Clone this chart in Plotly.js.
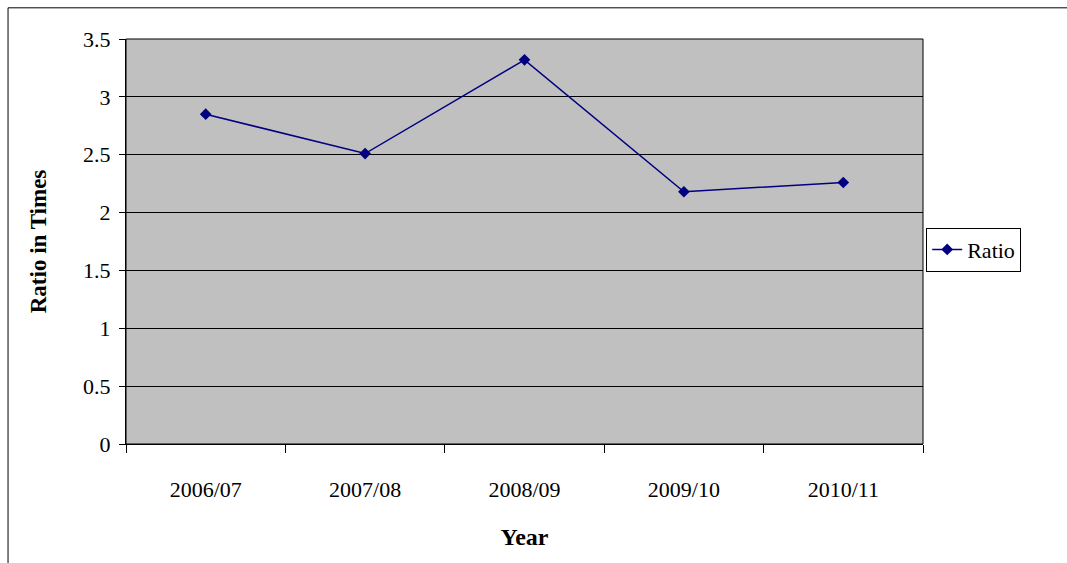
<!DOCTYPE html>
<html>
<head>
<script src="https://cdn.plot.ly/plotly-3.0.1.min.js"></script>
<style>body{margin:0}</style>
</head>
<body>
<div id="plot" style="width:1067px;height:563px"></div>
<script>
var years = ['2006/07', '2007/08', '2008/09', '2009/10', '2010/11'];
var ratio = [2.85, 2.51, 3.32, 2.18, 2.26];

var trace = {
  x: years,
  y: ratio,
  name: 'Ratio',
  type: 'scatter',
  mode: 'lines+markers',
  line: {color: '#000080', width: 1.5},
  marker: {symbol: 'diamond', size: 9, color: '#000080'}
};

var layout = {
  width: 1067, height: 563,
  margin: {l: 126, r: 144, t: 39, b: 119},
  font: {family: '"Liberation Serif", serif', size: 22, color: '#000'},
  plot_bgcolor: '#c0c0c0',
  paper_bgcolor: '#fff',
  showlegend: true,
  legend: {x: 1.004, xanchor: 'left', y: 0.48, yanchor: 'middle',
    bordercolor: '#000', borderwidth: 1, font: {size: 22}},
  xaxis: {
    range: [-0.5, 4.5],
    tickson: 'boundaries', ticks: 'outside', ticklen: 8, tickcolor: '#000',
    ticklabelstandoff: 26,
    showline: true, linecolor: '#000', showgrid: false,
    title: {text: '<b>Year</b>', font: {size: 24}, standoff: 26}
  },
  yaxis: {
    range: [0, 3.5], dtick: 0.5, ticks: 'outside', ticklen: 6, tickcolor: '#000',
    ticklabelstandoff: 4,
    showline: true, linecolor: '#000', gridcolor: '#000', gridwidth: 1,
    zeroline: false,
    title: {text: '<b>Ratio in Times</b>', font: {size: 23}, standoff: 30}
  },
  shapes: [
    {type: 'rect', xref: 'paper', yref: 'paper', x0: 0, x1: 1, y0: 0, y1: 1,
      line: {color: '#000', width: 1}, fillcolor: 'rgba(0,0,0,0)'},
    {type: 'rect', xref: 'paper', yref: 'paper', x0: -0.148, x1: 1.2, y0: -0.35, y1: 1.077,
      line: {color: '#000', width: 1}, fillcolor: 'rgba(0,0,0,0)'}
  ]
};

Plotly.newPlot('plot', [trace], layout, {displayModeBar: false});
</script>
</body>
</html>
